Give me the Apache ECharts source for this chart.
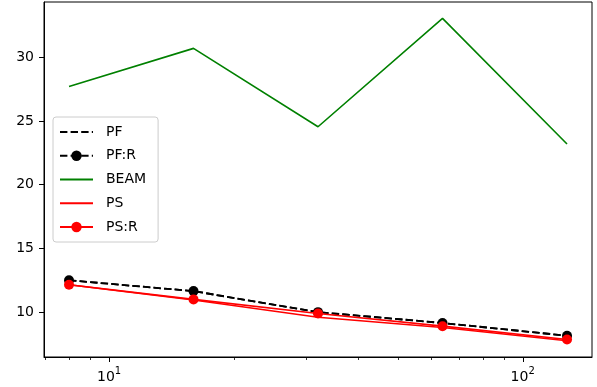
<!DOCTYPE html>
<html>
<head>
<meta charset="utf-8">
<script src="https://cdn.jsdelivr.net/npm/echarts@6/dist/echarts.min.js"></script>
<style>
  html, body { margin: 0; padding: 0; background: #fff; }
  #chart { width: 597px; height: 387px; }
</style>
</head>
<body>
<div id="chart"></div>
<script>
// problem sizes (log x axis)
const sizes = [8, 16, 32, 64, 128];

const pf = [12.5, 11.65, 10.0, 9.15, 8.15];
const pfR = [12.5, 11.65, 10.0, 9.15, 8.15];
const beam = [27.7, 30.7, 24.55, 33.05, 23.2];
const ps = [12.15, 10.95, 9.6, 8.8, 7.75];
const psR = [12.15, 11.0, 9.9, 8.9, 7.85];

const yTicks = [10, 15, 20, 25, 30];
const xMajorTicks = [10, 100];
const xMinorTicks = [7, 8, 9, 20, 30, 40, 50, 60, 70, 80, 90];

const FONT = 'DejaVu Sans';

function pairs(vals) {
  return sizes.map((s, i) => [s, vals[i]]);
}

const chart = echarts.init(document.getElementById('chart'));

const dash = [7.4, 3.2];
// legend entries for line-only series get no marker
const noMarker = { itemStyle: { opacity: 0 } };

const option = {
  animation: false,
  textStyle: { fontFamily: FONT },
  grid: {
    left: 44,
    right: 5,
    top: 2,
    bottom: 30,
    show: true,
    borderColor: '#000',
    borderWidth: 1,
    backgroundColor: 'transparent'
  },
  legend: {
    orient: 'vertical',
    left: 53,
    top: 117,
    itemWidth: 33,
    itemHeight: 13,
    itemGap: 7.75,
    padding: [7, 12, 7, 6],
    backgroundColor: 'rgba(255,255,255,0.8)',
    borderColor: '#cccccc',
    borderWidth: 1,
    borderRadius: 3,
    textStyle: {
      fontFamily: FONT,
      fontSize: 14,
      color: '#000',
      lineHeight: 16,
      padding: [0, 0, 0, 8]
    },
    data: [
      Object.assign({ name: 'PF' }, noMarker),
      { name: 'PF:R' },
      Object.assign({ name: 'BEAM' }, noMarker),
      Object.assign({ name: 'PS' }, noMarker),
      { name: 'PS:R' }
    ]
  },
  xAxis: {
    type: 'log',
    logBase: 10,
    min: 6.96,
    max: 147.1,
    axisLine: { show: true, lineStyle: { color: '#000', width: 1 } },
    axisTick: { show: false },
    splitLine: { show: false },
    axisLabel: {
      margin: 9,
      formatter: v => {
        if (Math.abs(v - 10) < 1e-6) return '{b|10}{s|1}';
        if (Math.abs(v - 100) < 1e-6) return '{b|10}{s|2}';
        return '';
      },
      rich: {
        b: { fontFamily: FONT, fontSize: 14, color: '#000', lineHeight: 18, verticalAlign: 'bottom' },
        s: { fontFamily: FONT, fontSize: 10, color: '#000', lineHeight: 10, verticalAlign: 'top' }
      }
    }
  },
  yAxis: {
    type: 'value',
    min: 6.48,
    max: 34.34,
    axisLine: { show: true, lineStyle: { color: '#000', width: 1 } },
    axisTick: {
      show: true,
      length: 5,
      lineStyle: { color: '#000', width: 1 },
      customValues: yTicks
    },
    splitLine: { show: false },
    axisLabel: {
      margin: 10,
      fontFamily: FONT,
      fontSize: 14,
      color: '#000',
      customValues: yTicks
    }
  },
  series: [
    {
      name: 'PF',
      type: 'line',
      data: pairs(pf),
      symbol: 'none',
      lineStyle: { color: '#000', width: 1.8, type: dash },
      itemStyle: { color: '#000' },
      z: 2
    },
    {
      name: 'PF:R',
      type: 'line',
      data: pairs(pfR),
      symbol: 'circle',
      symbolSize: 10,
      lineStyle: { color: '#000', width: 1.8, type: dash },
      itemStyle: { color: '#000' },
      z: 3
    },
    {
      name: 'BEAM',
      type: 'line',
      data: pairs(beam),
      symbol: 'none',
      lineStyle: { color: '#008000', width: 1.6 },
      itemStyle: { color: '#008000' },
      z: 4
    },
    {
      name: 'PS',
      type: 'line',
      data: pairs(ps),
      symbol: 'none',
      lineStyle: { color: '#ff0000', width: 1.6 },
      itemStyle: { color: '#ff0000' },
      z: 5
    },
    {
      name: 'PS:R',
      type: 'line',
      data: pairs(psR),
      symbol: 'circle',
      symbolSize: 10,
      lineStyle: { color: '#ff0000', width: 1.6 },
      itemStyle: { color: '#ff0000' },
      z: 6
    }
  ]
};

chart.setOption(option);

// x ticks: matplotlib-style log ticks placed through the axis scale
function drawXTicks() {
  const bottom = chart.getHeight() - 30;
  const els = [];
  xMajorTicks.forEach(v => {
    const x = Math.round(chart.convertToPixel({ xAxisIndex: 0 }, v)) + 0.5;
    els.push({
      type: 'line',
      shape: { x1: x, y1: bottom, x2: x, y2: bottom + 5 },
      style: { stroke: '#000', lineWidth: 1 },
      silent: true
    });
  });
  xMinorTicks.forEach(v => {
    const x = Math.round(chart.convertToPixel({ xAxisIndex: 0 }, v)) + 0.5;
    els.push({
      type: 'line',
      shape: { x1: x, y1: bottom, x2: x, y2: bottom + 3 },
      style: { stroke: '#000', lineWidth: 0.8 },
      silent: true
    });
  });
  chart.setOption({ graphic: els });
}

drawXTicks();
</script>
</body>
</html>
